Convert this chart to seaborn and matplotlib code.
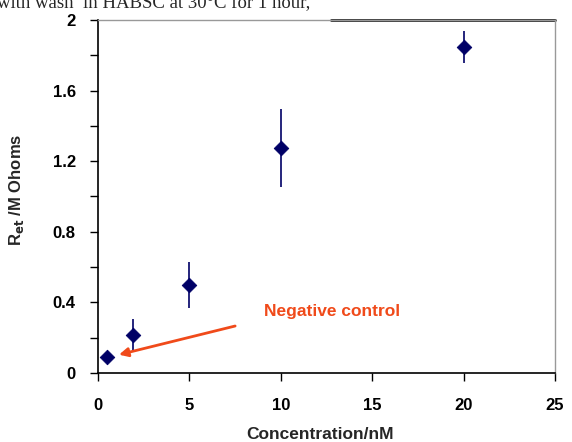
import numpy as np
import pandas as pd
import matplotlib
matplotlib.use('Agg')
import matplotlib.pyplot as plt
import seaborn as sns

# values
conc = [0.5, 1.9, 5, 10, 20]
ret = [0.09, 0.215, 0.50, 1.275, 1.845]
err = [0.0, 0.09, 0.13, 0.22, 0.09]
x_ticks = [0, 5, 10, 15, 20, 25]
y_ticks = [0, 0.4, 0.8, 1.2, 1.6, 2]
y_labels = ['0', '0.4', '0.8', '1.2', '1.6', '2']

df = pd.DataFrame({'conc': conc, 'ret': ret, 'err': err})

sns.set_style('ticks')
plt.rcParams['font.family'] = ['Liberation Sans', 'DejaVu Sans']

fig = plt.figure(figsize=(5.72, 4.42), dpi=100)
ax = fig.add_axes([98 / 572, 1 - 373 / 442, 457 / 572, 353 / 442])

navy = '#000066'
ax.errorbar(df['conc'], df['ret'], yerr=df['err'], fmt='none', ecolor=navy, elinewidth=1.2, capsize=0)
sns.scatterplot(data=df, x='conc', y='ret', marker='D', color=navy, s=55, edgecolor=navy, ax=ax, zorder=3)

ax.set_xlim(0, 25)
ax.set_ylim(0, 2)
ax.set_xticks(x_ticks)
ax.set_xticklabels([str(t) for t in x_ticks], fontweight='bold', fontsize=12)
ax.set_yticks(y_ticks)
ax.set_yticklabels(y_labels, fontweight='bold', fontsize=12)
ax.set_yticks(np.arange(0.2, 2, 0.4), minor=True)
ax.tick_params(axis='both', which='both', direction='out', length=6, width=1, colors='black', pad=10)
ax.tick_params(axis='x', pad=12)

for side in ['left', 'bottom']:
    ax.spines[side].set_color('black')
    ax.spines[side].set_linewidth(1.2)
for side in ['top', 'right']:
    ax.spines[side].set_visible(True)
    ax.spines[side].set_color('#999999')
    ax.spines[side].set_linewidth(1)
ax.axhline(2, xmin=0.51, xmax=1, color='#222222', lw=2, clip_on=False)

ax.set_xlabel('Concentration/nM', fontweight='bold', fontsize=12.5)
ax.xaxis.set_label_coords(0.486, -0.152)
ax.set_ylabel(r'R$_{\mathbf{et}}$ /M Ohoms', fontweight='bold', fontsize=12)
ax.yaxis.set_label_coords(-0.158, 0.52)

ax.annotate('', xy=(1.0, 0.10), xytext=(7.65, 0.27),
            arrowprops=dict(arrowstyle='-|>', color='#f04a1a', lw=2, mutation_scale=13))
ax.text(9.1, 0.35, 'Negative control', color='#f04a1a', fontweight='bold', fontsize=12.5, va='center')

fig.text(-0.005, 1 - 8 / 442, 'with wash  in HABSC at 30\u00b0C for 1 hour,', family='Liberation Serif',
         fontsize=13.5, va='baseline', ha='left')

fig.savefig('out.png', dpi=100)
